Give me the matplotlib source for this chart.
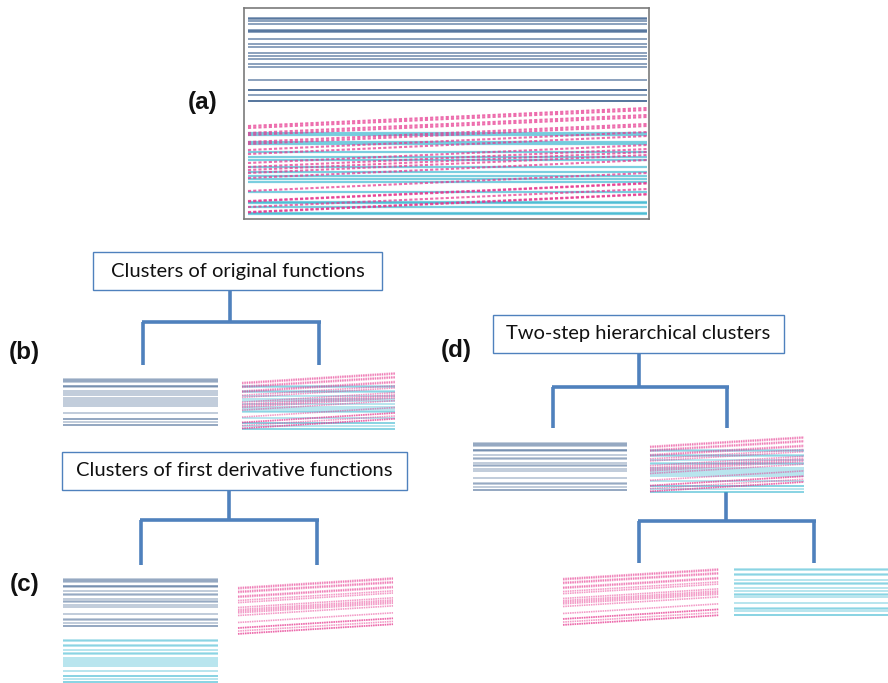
import matplotlib
matplotlib.use("Agg")
import matplotlib.pyplot as plt
from matplotlib.patches import Rectangle
import numpy as np

# ---- function families (constant levels and sloped lines over t in [0, 1]) ----
navy_levels = [20.1, 20.0, 19.8, 19.5, 18.9, 18.8, 18.7, 18.0, 17.5, 17.2,
               16.6, 16.3, 16.0, 15.5, 15.2, 13.9, 12.95, 12.9, 12.4, 11.85, 11.8]
cyan_levels = [8.6, 8.4, 7.7, 7.5, 6.7, 6.2, 5.9, 5.2, 4.7, 4.3, 4.0, 3.7,
               2.7, 1.7, 1.65, 1.2, 0.6, 0.55]
magenta_start = [9.3, 9.1, 8.6, 8.4, 7.7, 7.5, 6.9, 6.5, 5.6, 5.2, 4.9, 4.6,
                 4.1, 2.8, 1.8, 1.75, 1.2, 0.7, 0.65]
magenta_slope = 1.8
t_range = [0.0, 1.0]

box_titles = ["Clusters of original functions",
              "Clusters of first derivative functions",
              "Two-step hierarchical clusters"]
panel_labels = ["(a)", "(b)", "(c)", "(d)"]

W, H = 888, 683
fig = plt.figure(figsize=(W / 100, H / 100), dpi=100)


def rect(x, y, w, h):
    return [x / W, 1 - (y + h) / H, w / W, h / H]


def draw_family(ax, fam, big=False):
    t = np.array(t_range)
    if fam == "navy":
        for v in navy_levels:
            ax.plot(t, [v, v], color="#2d5486", lw=1.4 if big else 1.3,
                    alpha=0.55 if big else 0.32, clip_on=False, solid_capstyle="butt")
    elif fam == "cyan":
        for v in cyan_levels:
            ax.plot(t, [v, v], color="#35b5cf", lw=1.6 if big else 1.3,
                    alpha=0.65 if big else 0.38, clip_on=False, solid_capstyle="butt")
    elif fam == "magenta":
        for v in magenta_start:
            ax.plot(t, v + magenta_slope * t, color="#e6358e",
                    lw=1.5 if big else 1.2, alpha=0.72 if big else 0.5,
                    ls=(0, (1.5, 1.0)) if big else (0, (0.9, 0.5)), clip_on=False)


def ylims(fams):
    vals = []
    if "navy" in fams:
        vals += navy_levels
    if "cyan" in fams:
        vals += cyan_levels
    if "magenta" in fams:
        vals += magenta_start + [v + magenta_slope for v in magenta_start]
    return min(vals), max(vals)


def sub_panel(x, y, w, h, fams):
    ax = fig.add_axes(rect(x, y, w, h))
    for f in fams:
        draw_family(ax, f)
    ax.set_xlim(*t_range)
    ax.set_ylim(*ylims(fams))
    ax.axis("off")
    return ax


# ---- panel (a): all functions together ----
axa = fig.add_axes(rect(244, 8, 405, 211))
for f in ["navy", "cyan", "magenta"]:
    draw_family(axa, f, big=True)
axa.set_xlim(-0.01, 1.005)
axa.set_ylim(0, 21.1)
axa.set_xticks([])
axa.set_yticks([])
for s in axa.spines.values():
    s.set_color("#7a7a7a")
    s.set_linewidth(1.2)

# ---- cluster panels ----
sub_panel(63, 379, 155, 46, ["navy"])
sub_panel(242, 373, 153, 56, ["cyan", "magenta"])
sub_panel(63, 579, 155, 47, ["navy"])
sub_panel(238, 578, 155, 56, ["magenta"])
sub_panel(63, 640, 155, 42, ["cyan"])
sub_panel(473, 443, 154, 47, ["navy"])
sub_panel(650, 437, 154, 55, ["cyan", "magenta"])
sub_panel(563, 569, 156, 56, ["magenta"])
sub_panel(734, 569, 155, 46, ["cyan"])

# ---- overlay in pixel coordinates: title boxes, tree connectors, labels ----
ov = fig.add_axes([0, 0, 1, 1], zorder=-1)
ov.set_xlim(0, W)
ov.set_ylim(H, 0)
ov.axis("off")

tree_col = "#4f81bd"
boxes = [(93, 252, 289, 38), (62, 452, 345, 38), (493, 315, 291, 38)]
for (bx, by, bw, bh), title in zip(boxes, box_titles):
    ov.add_patch(Rectangle((bx, by), bw, bh, facecolor="white",
                           edgecolor=tree_col, lw=1.0))
    ov.text(bx + bw / 2, by + bh / 2, title, ha="center", va="center",
            fontsize=14.5, family="Lato", color="#111111")


def tree(stem_x, y0, y1, xl, xr, y2):
    kw = dict(color=tree_col, lw=2.6, solid_capstyle="butt")
    ov.plot([stem_x, stem_x], [y0, y1], **kw)
    ov.plot([xl - 1.5, xr + 1.5], [y1, y1], **kw)
    ov.plot([xl, xl], [y1, y2], **kw)
    ov.plot([xr, xr], [y1, y2], **kw)


tree(230, 290, 322, 143, 319, 365)
tree(229, 490, 520, 141, 317, 565)
tree(639, 353, 387, 553, 727, 428)
tree(726, 492, 521, 639, 814, 563)

label_pos = [(203, 103), (24, 352), (25, 585), (456, 350)]
for (lx, ly), lab in zip(label_pos, panel_labels):
    ov.text(lx, ly, lab, ha="center", va="center", fontsize=17.5,
            fontweight="bold", family="Liberation Sans", color="#111111")

fig.savefig("out.png", dpi=100, facecolor="white")
